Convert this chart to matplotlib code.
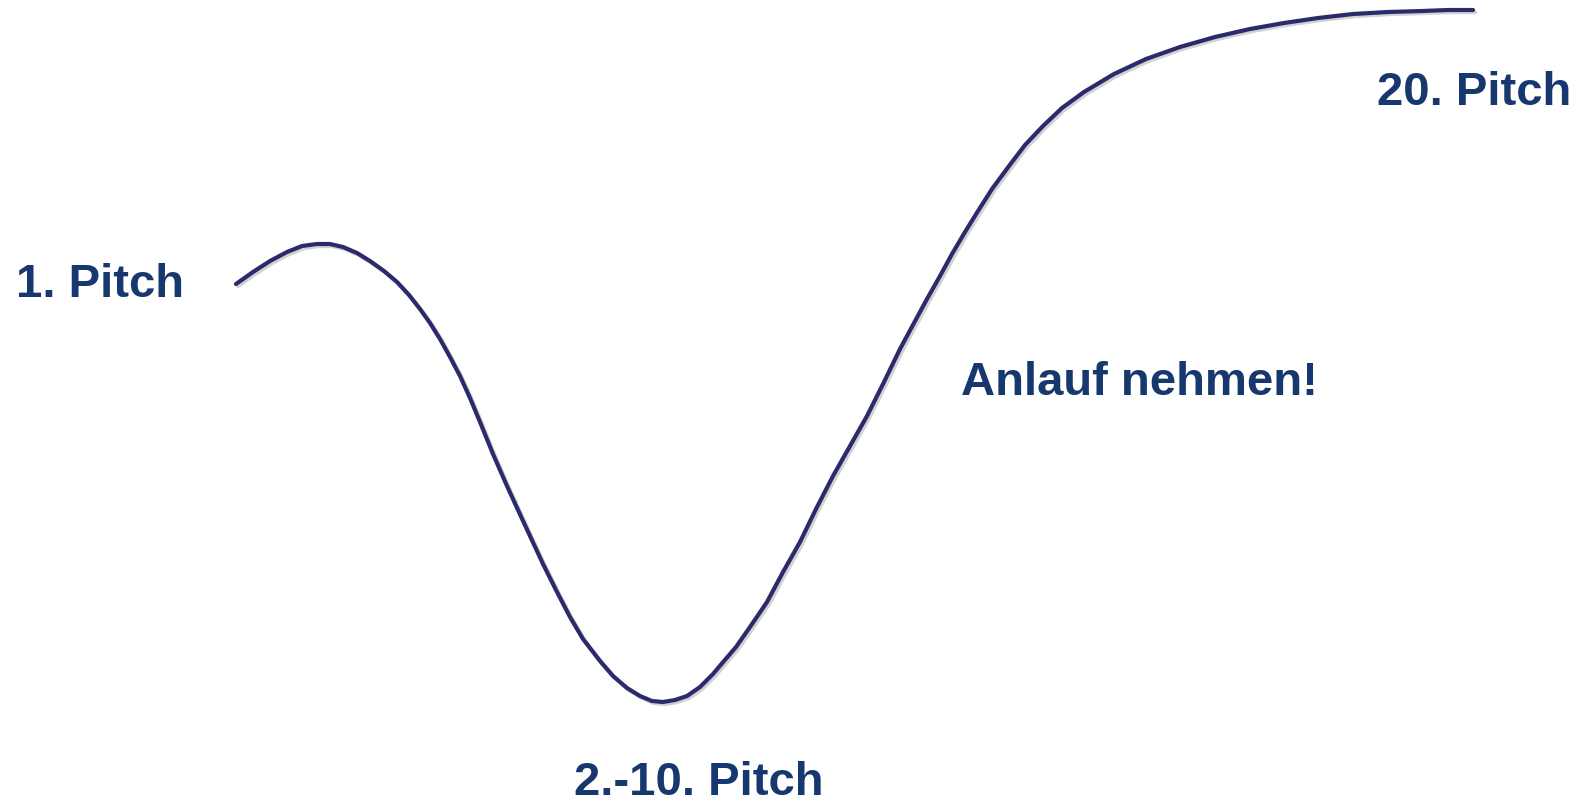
import matplotlib.pyplot as plt
import matplotlib.patheffects as pe

plt.rcParams['font.family'] = ['Liberation Sans', 'DejaVu Sans']

# curve (pixel space, y downwards)
curve_x = [236, 253, 270, 287, 302, 317, 330, 343, 357, 370, 384, 397, 409, 420,
           430, 440, 450, 460, 470, 480, 493, 507, 518, 530, 543, 557, 570, 583,
           600, 613, 627, 640, 652, 663, 675, 687, 700, 713, 724, 736, 750, 767,
           783, 800, 816, 833, 850, 867, 884, 900, 914, 927, 940, 952, 965, 978,
           992, 1009, 1025, 1043, 1062, 1084, 1114, 1146, 1180, 1215, 1250, 1284,
           1318, 1353, 1388, 1422, 1448, 1473]
curve_y = [285, 273, 262, 253, 247, 245, 245, 248, 254, 262, 272, 283, 296, 310,
           324, 340, 358, 377, 399, 423, 455, 487, 511, 537, 565, 593, 618, 640,
           662, 677, 689, 697, 702, 703, 701, 697, 688, 675, 662, 648, 628, 603,
           573, 543, 510, 477, 447, 417, 383, 350, 324, 300, 277, 255, 233, 212,
           190, 167, 146, 127, 109, 93, 75, 60, 48, 38, 30, 24, 19, 15, 13, 12,
           11, 11]

labels = ["1. Pitch", "2.-10. Pitch", "Anlauf nehmen!", "20. Pitch"]
label_x = [16, 574, 961, 1377]
label_y = [297, 795, 395, 105]

line_color = '#2b2a6b'
text_color = '#17376f'

fig = plt.figure(figsize=(15.86, 8.03), dpi=100)
ax = fig.add_axes([0, 0, 1, 1])
ax.set_xlim(0, 1586)
ax.set_ylim(803, 0)
ax.axis('off')

ax.plot(curve_x, curve_y, color=line_color, lw=3, solid_capstyle='round',
        solid_joinstyle='round',
        path_effects=[pe.SimpleLineShadow(offset=(1.5, -1.5), shadow_color='gray', alpha=0.35),
                      pe.Normal()])

for txt, x, y in zip(labels, label_x, label_y):
    ax.text(x, y, txt, color=text_color, fontsize=34, fontweight='bold',
            ha='left', va='baseline')

fig.savefig("out.png", dpi=100)
